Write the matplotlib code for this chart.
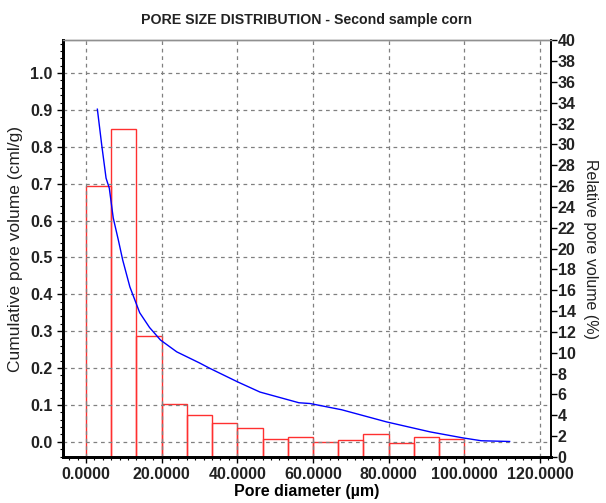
import matplotlib.pyplot as plt
import numpy as np
from matplotlib.ticker import MultipleLocator

plt.rcParams['font.family'] = ['Liberation Sans', 'DejaVu Sans']

# histogram bins (pore diameter, um) and relative pore volume (%)
bin_edges = [0.0, 6.667, 13.333, 20.0, 26.667, 33.333, 40.0, 46.667, 53.333,
             60.0, 66.667, 73.333, 80.0, 86.667, 93.333, 100.0]
rel_volume = [26.0, 31.45, 11.6, 5.1, 4.0, 3.25, 2.8, 1.7, 1.9,
              1.45, 1.65, 2.2, 1.35, 1.9, 1.75]

# cumulative pore volume curve (cml/g)
diam = [3.0, 4.15, 5.3, 6.15, 7.2, 8.55, 9.7, 11.6, 12.9, 14.2, 16.8,
        19.7, 24.0, 30.0, 32.6, 40.0, 46.0, 56.3, 59.2, 67.6, 79.5, 91.0,
        99.5, 104.5, 112.0]
cum_volume = [0.902, 0.805, 0.715, 0.688, 0.607, 0.547, 0.493, 0.42,
              0.385, 0.35, 0.31, 0.276, 0.244, 0.214, 0.2, 0.163, 0.135,
              0.106, 0.104, 0.087, 0.054, 0.027, 0.011, 0.003, 0.001]

fig = plt.figure(figsize=(6.06, 5.03), dpi=100)
ax = fig.add_axes([0.104, 0.0915, 0.805, 0.8285])
ax2 = ax.twinx()

# bars on the right axis
lefts = np.array(bin_edges[:-1])
widths = np.diff(bin_edges)
ax2.bar(lefts, rel_volume, width=widths, align='edge', facecolor='none',
        edgecolor='#ff3030', linewidth=1.0, zorder=2)

# cumulative line on the left axis
ax.plot(diam, cum_volume, color='#0000ff', linewidth=1.0, zorder=5)
ax.set_zorder(ax2.get_zorder() + 1)
ax.patch.set_visible(False)

ax.set_xlim(-6.08, 122.9)
ax.set_ylim(-0.041, 1.089)
ax2.set_ylim(0, 40)

ax.xaxis.set_minor_locator(MultipleLocator(20 / 9))
ax.yaxis.set_minor_locator(MultipleLocator(0.02))
ax2.yaxis.set_major_locator(MultipleLocator(2))

xt = np.arange(0, 121, 20)
ax.set_xticks(xt)
ax.set_xticklabels(['%.4f' % v for v in xt])
yt = np.arange(0, 1.01, 0.1)
ax.set_yticks(yt)
ax.set_yticklabels(['%.1f' % v for v in yt])

ax.grid(True, which='major', color='#808080', linestyle=(0, (3, 3)), linewidth=0.9)

for lbl in ax.get_xticklabels() + ax.get_yticklabels() + ax2.get_yticklabels():
    lbl.set_fontweight('bold')
    lbl.set_fontsize(11.5)
    lbl.set_color('#222222')

ax.tick_params(axis='both', which='major', length=4, width=1, direction='out')
ax.tick_params(axis='both', which='minor', length=2.5, width=0.8, direction='out')
ax2.tick_params(axis='y', which='major', length=4, width=1, direction='out', pad=1)

for a in (ax, ax2):
    a.spines['left'].set_linewidth(2)
    a.spines['bottom'].set_linewidth(2)
    a.spines['right'].set_linewidth(1.2)
    a.spines['top'].set_color('#909090')
    a.spines['top'].set_linewidth(1)

ax.set_xlabel('Pore diameter (µm)', fontsize=11.5, fontweight='bold', labelpad=1)
ax.set_ylabel('Cumulative pore volume (cml/g)', fontsize=12.5, labelpad=5, color='#222222')
ax2.set_ylabel('Relative pore volume (%)', fontsize=11.5, rotation=-90, labelpad=16, color='#222222')
ax.set_title('PORE SIZE DISTRIBUTION - Second sample corn', fontsize=10.2,
             fontweight='bold', pad=12, color='#222222')

fig.savefig('out.png', dpi=100)
